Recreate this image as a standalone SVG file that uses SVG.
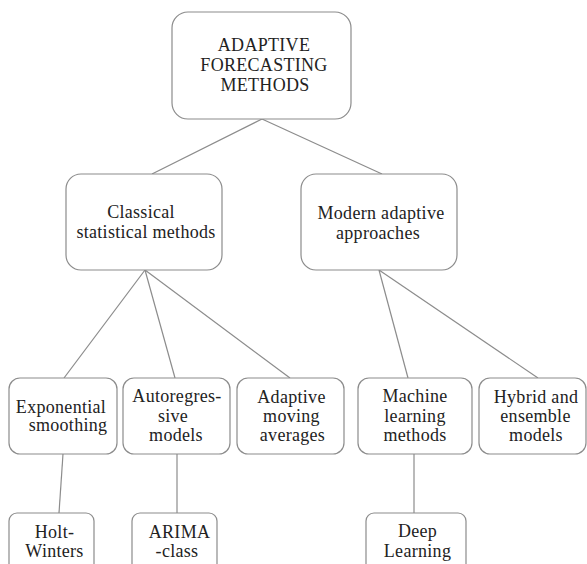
<svg xmlns="http://www.w3.org/2000/svg" width="587" height="564" viewBox="0 0 587 564">
<style>
.box{fill:#fff;stroke:#8c8c8c;stroke-width:1.2}
.t{font-family:"Liberation Serif","DejaVu Serif",serif;font-size:18px;fill:#222;text-anchor:middle;letter-spacing:0.3px}
.c{stroke:#8c8c8c;stroke-width:1.2;fill:none}
</style>
<rect width="587" height="564" fill="#fff"/>
<g id="connectors">
<line class="c" x1="262" y1="119" x2="152" y2="174"/>
<line class="c" x1="262" y1="119" x2="382" y2="174"/>
<line class="c" x1="145" y1="270" x2="64" y2="378"/>
<line class="c" x1="145" y1="270" x2="175" y2="378"/>
<line class="c" x1="145" y1="270" x2="290" y2="378"/>
<line class="c" x1="379" y1="270" x2="408" y2="378"/>
<line class="c" x1="379" y1="270" x2="538" y2="378"/>
<line class="c" x1="63" y1="454" x2="59" y2="513"/>
<line class="c" x1="177" y1="454" x2="177" y2="513"/>
<line class="c" x1="414" y1="454" x2="414" y2="513"/>
</g>
<g id="root">
<rect class="box" x="172" y="12" width="179" height="107" rx="16"/>
<text class="t"><tspan x="264" y="51">ADAPTIVE</tspan><tspan x="264" y="71">FORECASTING</tspan><tspan x="265" y="91">METHODS</tspan></text>
</g>
<g id="classical">
<rect class="box" x="66" y="174" width="156" height="96" rx="15"/>
<text class="t"><tspan x="141" y="218">Classical</tspan><tspan x="146" y="238">statistical methods</tspan></text>
</g>
<g id="modern">
<rect class="box" x="301" y="174" width="156" height="96" rx="15"/>
<text class="t"><tspan x="381" y="219">Modern adaptive</tspan><tspan x="378" y="239">approaches</tspan></text>
</g>
<g id="exponential">
<rect class="box" x="9" y="378" width="108" height="76" rx="11"/>
<text class="t"><tspan x="61" y="413">Exponential</tspan><tspan x="68" y="431">smoothing</tspan></text>
</g>
<g id="autoregressive">
<rect class="box" x="123" y="378" width="107" height="76" rx="11"/>
<text class="t"><tspan x="177" y="402">Autoregres-</tspan><tspan x="173" y="422">sive</tspan><tspan x="176" y="441">models</tspan></text>
</g>
<g id="adaptive-ma">
<rect class="box" x="237" y="378" width="107" height="76" rx="11"/>
<text class="t"><tspan x="291.5" y="403">Adaptive</tspan><tspan x="291.5" y="422">moving</tspan><tspan x="292.5" y="441">averages</tspan></text>
</g>
<g id="machine">
<rect class="box" x="358" y="378" width="114" height="76" rx="11"/>
<text class="t"><tspan x="415" y="402">Machine</tspan><tspan x="415" y="422">learning</tspan><tspan x="415" y="441">methods</tspan></text>
</g>
<g id="hybrid">
<rect class="box" x="479" y="378" width="107" height="76" rx="11"/>
<text class="t"><tspan x="536" y="403">Hybrid and</tspan><tspan x="535.5" y="422">ensemble</tspan><tspan x="536" y="441">models</tspan></text>
</g>
<g id="holt">
<rect class="box" x="9" y="513" width="85" height="60" rx="8"/>
<text class="t"><tspan x="54.5" y="538">Holt-</tspan><tspan x="54.5" y="557">Winters</tspan></text>
</g>
<g id="arima">
<rect class="box" x="132" y="513" width="85" height="60" rx="8"/>
<text class="t"><tspan x="179.5" y="538">ARIMA</tspan><tspan x="177" y="557">-class</tspan></text>
</g>
<g id="deep">
<rect class="box" x="366" y="513" width="100" height="60" rx="8"/>
<text class="t"><tspan x="417.5" y="537">Deep</tspan><tspan x="417.5" y="557">Learning</tspan></text>
</g>
</svg>
